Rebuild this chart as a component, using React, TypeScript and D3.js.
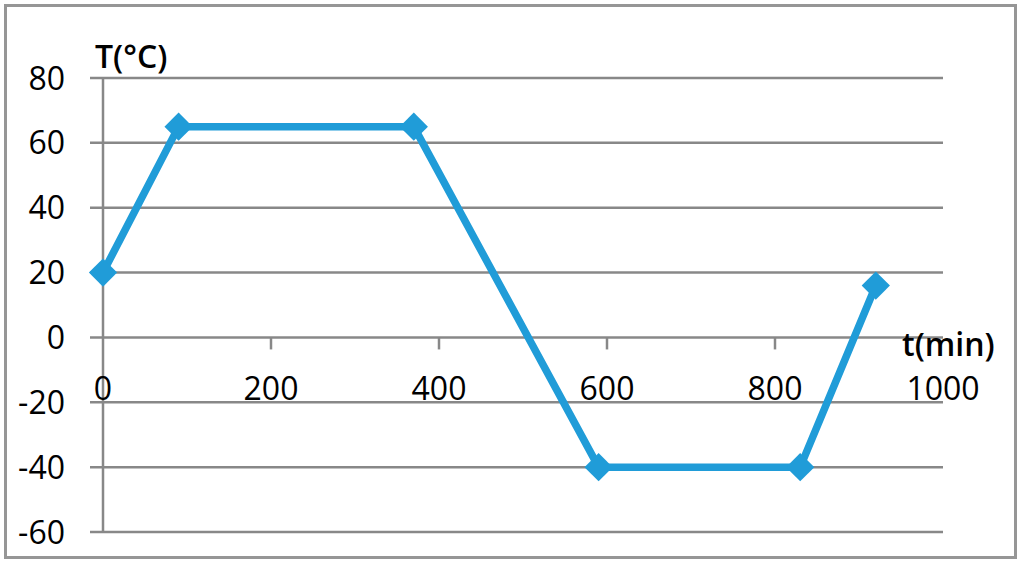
import React, { useEffect, useRef } from "react";
import * as d3 from "d3";

// temperature profile
const timeMin = [0, 90, 370, 590, 830, 920];
const tempC = [20, 65, 65, -40, -40, 16];
const yTicks = [80, 60, 40, 20, 0, -20, -40, -60];
const xTicks = [0, 200, 400, 600, 800, 1000];

const W = 1024;
const H = 567;

const App = () => {
  const svgRef = useRef<SVGSVGElement | null>(null);

  useEffect(() => {
    const svg = d3.select(svgRef.current);
    svg.selectAll("*").remove();

    const font = "'Open Sans', sans-serif";
    const grey = "#888888";
    const blue = "#209cd8";

    const x = d3.scaleLinear().domain([0, 1000]).range([103, 943]);
    const y = d3.scaleLinear().domain([-60, 80]).range([532, 78]);

    svg.append("rect").attr("width", W).attr("height", H).attr("fill", "#fff");

    // outer frame
    svg
      .append("rect")
      .attr("x", 5.5)
      .attr("y", 5.5)
      .attr("width", 1010)
      .attr("height", 552)
      .attr("fill", "none")
      .attr("stroke", "#969696")
      .attr("stroke-width", 3);

    // horizontal grid lines (they also make the y ticks)
    svg
      .append("g")
      .selectAll("line")
      .data(yTicks)
      .enter()
      .append("line")
      .attr("x1", 90)
      .attr("x2", x(1000))
      .attr("y1", (d) => y(d))
      .attr("y2", (d) => y(d))
      .attr("stroke", grey)
      .attr("stroke-width", 2.5);

    // y axis line
    svg
      .append("line")
      .attr("x1", x(0))
      .attr("x2", x(0))
      .attr("y1", y(80))
      .attr("y2", y(-60))
      .attr("stroke", grey)
      .attr("stroke-width", 2.5);

    // x ticks hanging off the zero line
    svg
      .append("g")
      .selectAll("line")
      .data(xTicks.slice(1, -1))
      .enter()
      .append("line")
      .attr("x1", (d) => x(d))
      .attr("x2", (d) => x(d))
      .attr("y1", y(0))
      .attr("y2", y(0) + 12)
      .attr("stroke", grey)
      .attr("stroke-width", 2.5);

    // y tick labels
    svg
      .append("g")
      .selectAll("text")
      .data(yTicks)
      .enter()
      .append("text")
      .attr("x", 65)
      .attr("y", (d) => y(d) + 11.5)
      .attr("text-anchor", "end")
      .attr("font-family", font)
      .attr("font-size", 32)
      .attr("fill", "#000")
      .text((d) => d);

    // x tick labels
    svg
      .append("g")
      .selectAll("text")
      .data(xTicks)
      .enter()
      .append("text")
      .attr("x", (d) => x(d))
      .attr("y", 400)
      .attr("text-anchor", "middle")
      .attr("font-family", font)
      .attr("font-size", 32)
      .attr("fill", "#000")
      .text((d) => d);

    // axis titles
    svg
      .append("text")
      .attr("x", 95)
      .attr("y", 68)
      .attr("font-family", font)
      .attr("font-size", 32)
      .attr("font-weight", 600)
      .text("T(°C)");

    svg
      .append("text")
      .attr("x", 902)
      .attr("y", 356)
      .attr("font-family", font)
      .attr("font-size", 32)
      .attr("font-weight", 600)
      .text("t(min)");

    const pts = timeMin.map((t, i) => [t, tempC[i]] as [number, number]);

    const line = d3
      .line<[number, number]>()
      .x((d) => x(d[0]))
      .y((d) => y(d[1]));

    svg
      .append("path")
      .datum(pts)
      .attr("d", line)
      .attr("fill", "none")
      .attr("stroke", blue)
      .attr("stroke-width", 7.5)
      .attr("stroke-linejoin", "round");

    const diamond = d3.symbol().type(d3.symbolSquare).size(400);

    svg
      .append("g")
      .selectAll("path")
      .data(pts)
      .enter()
      .append("path")
      .attr("d", diamond)
      .attr("transform", (d) => `translate(${x(d[0])},${y(d[1])}) rotate(45)`)
      .attr("fill", blue);
  }, []);

  return (
    <svg
      ref={svgRef}
      width={W}
      height={H}
      style={{ position: "absolute", left: 0, top: 0 }}
    ></svg>
  );
};

export default App;
